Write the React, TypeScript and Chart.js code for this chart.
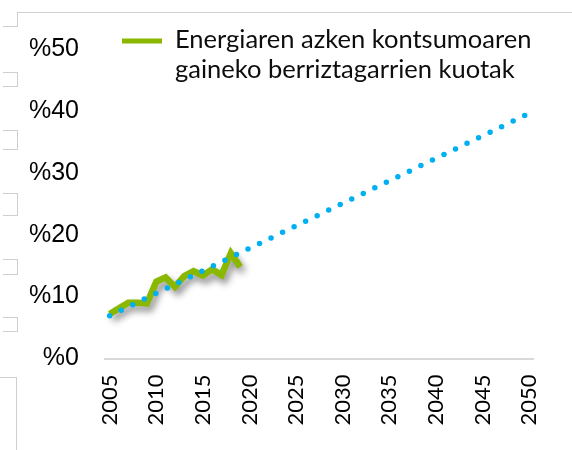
import { useEffect, useRef } from 'react';
import { Chart, registerables } from 'chart.js';

Chart.register(...registerables);

// Categories (years on the x axis)
const years = [
  '2005', '2006', '2007', '2008', '2009', '2010', '2011', '2012', '2013', '2014',
  '2015', '2016', '2017', '2018', '2019', '2020', '2021', '2022', '2023', '2024',
  '2025', '2026', '2027', '2028', '2029', '2030', '2031', '2032', '2033', '2034',
  '2035', '2036', '2037', '2038', '2039', '2040', '2041', '2042', '2043', '2044',
  '2045', '2046', '2047', '2048', '2049', '2050',
];
const tickYears = ['2005', '2010', '2015', '2020', '2025', '2030', '2035', '2040', '2045', '2050'];

// Observed renewable share (%)
const shareYears = ['2005', '2006', '2007', '2008', '2009', '2010', '2011', '2012', '2013', '2014', '2015', '2016', '2017', '2018', '2019'];
const shareValues = [7.2, 8.1, 9.0, 9.0, 8.9, 12.4, 13.1, 11.6, 13.3, 14.1, 13.4, 14.4, 13.5, 17.0, 14.8];

// Trend path (%)
const trendYears = ['2005', '2050'];
const trendValues = [6.9, 39.6];

const yTickValues = [0, 10, 20, 30, 40, 50];
const legendLines = ['Energiaren azken kontsumoaren', 'gaineko berriztagarrien kuotak'];

const GREEN = '#8AB800';
const BLUE = '#00B0F0';

const decoBoxes = [
  { left: 3, top: 26, width: 14, height: 0, sides: 'bt' },
  { left: 3, top: 72, width: 14, height: 13, sides: 'trb' },
  { left: 3, top: 130, width: 14, height: 18, sides: 'trb' },
  { left: 3, top: 193, width: 14, height: 21, sides: 'trb' },
  { left: 3, top: 259, width: 14, height: 14, sides: 'trb' },
  { left: 3, top: 317, width: 14, height: 13, sides: 'trb' },
];

export default function App() {
  const ref = useRef<HTMLCanvasElement | null>(null);

  useEffect(() => {
    document.body.style.margin = '0';
    if (!ref.current) return;

    const shadowPlugin = {
      id: 'greenShadow',
      beforeDatasetDraw(chart: any, args: any) {
        if (args.index === 1) {
          const ctx = chart.ctx;
          ctx.save();
          ctx.shadowColor = 'rgba(0,0,0,0.45)';
          ctx.shadowBlur = 7;
          ctx.shadowOffsetX = 3;
          ctx.shadowOffsetY = 5;
        }
      },
      afterDatasetDraw(chart: any, args: any) {
        if (args.index === 1) chart.ctx.restore();
      },
    };

    const legendPlugin = {
      id: 'customLegend',
      afterDraw(chart: any) {
        const ctx = chart.ctx;
        ctx.save();
        ctx.strokeStyle = GREEN;
        ctx.lineWidth = 5;
        ctx.lineCap = 'butt';
        ctx.beginPath();
        ctx.moveTo(122, 41);
        ctx.lineTo(162, 41);
        ctx.stroke();
        ctx.fillStyle = '#0d0d0d';
        ctx.font = '25.5px Lato';
        ctx.textBaseline = 'middle';
        ctx.textAlign = 'left';
        legendLines.forEach((line, i) => ctx.fillText(line, 175, 40 + i * 30));
        ctx.restore();
      },
    };

    const chart = new Chart(ref.current, {
      type: 'line',
      data: {
        labels: years,
        datasets: [
          {
            label: 'Trend',
            data: trendYears.map((y, i) => ({ x: y, y: trendValues[i] })),
            borderColor: BLUE,
            borderWidth: 5.5,
            borderDash: [0, 12.8],
            borderCapStyle: 'round',
            pointRadius: 0,
            fill: false,
            tension: 0,
            spanGaps: true,
          },
          {
            label: legendLines.join(' '),
            data: shareYears.map((y, i) => ({ x: y, y: shareValues[i] })),
            borderColor: GREEN,
            borderWidth: 6.5,
            borderJoinStyle: 'miter',
            borderCapStyle: 'butt',
            pointRadius: 0,
            fill: false,
            tension: 0,
          },
        ],
      },
      options: {
        animation: false,
        responsive: false,
        layout: { padding: { top: 49, right: 38, left: 0, bottom: 0 } },
        plugins: {
          legend: { display: false },
          tooltip: { enabled: false },
        },
        scales: {
          x: {
            type: 'category',
            offset: true,
            grid: { display: false, drawTicks: false },
            border: { display: true, color: '#d9d9d9', width: 2 },
            ticks: {
              autoSkip: false,
              maxRotation: 90,
              minRotation: 90,
              padding: 16,
              color: '#000',
              font: { family: 'Lato', size: 22 },
              callback(this: any, value: any) {
                const lbl = this.getLabelForValue(value);
                return tickYears.includes(lbl) ? lbl : null;
              },
            },
            afterFit(scale: any) {
              scale.height = 91.5;
            },
          },
          y: {
            min: 0,
            max: 50,
            grid: { display: false, drawTicks: false },
            border: { display: false },
            afterBuildTicks(scale: any) {
              scale.ticks = yTickValues.map((v) => ({ value: v }));
            },
            ticks: {
              padding: 26,
              color: '#000',
              font: { family: '"Liberation Sans", Arial', size: 25 },
              callback: (v: any) => '%' + v,
            },
            afterFit(scale: any) {
              scale.width = 105;
            },
          },
        },
      },
      plugins: [shadowPlugin, legendPlugin],
    } as any);

    return () => chart.destroy();
  }, []);

  const border = '1px solid #cfcfcf';
  return (
    <div style={{ position: 'absolute', left: 0, top: 0, width: 572, height: 450, background: '#fff' }}>
      <div style={{ position: 'absolute', left: 17, top: 12, width: 555, height: 14, borderTop: border, borderLeft: border }} />
      {decoBoxes.map((b, i) => (
        <div
          key={i}
          style={{
            position: 'absolute',
            left: b.left,
            top: b.top,
            width: b.width,
            height: b.height,
            borderTop: b.sides.includes('t') ? border : undefined,
            borderRight: b.sides.includes('r') ? border : undefined,
            borderBottom: b.sides.includes('b') && b.height > 0 ? border : undefined,
          }}
        />
      ))}
      <div style={{ position: 'absolute', left: 0, top: 377, width: 16, height: 73, borderTop: border, borderRight: border }} />
      <canvas ref={ref} width={572} height={450} style={{ position: 'absolute', left: 0, top: 0 }} />
    </div>
  );
}
